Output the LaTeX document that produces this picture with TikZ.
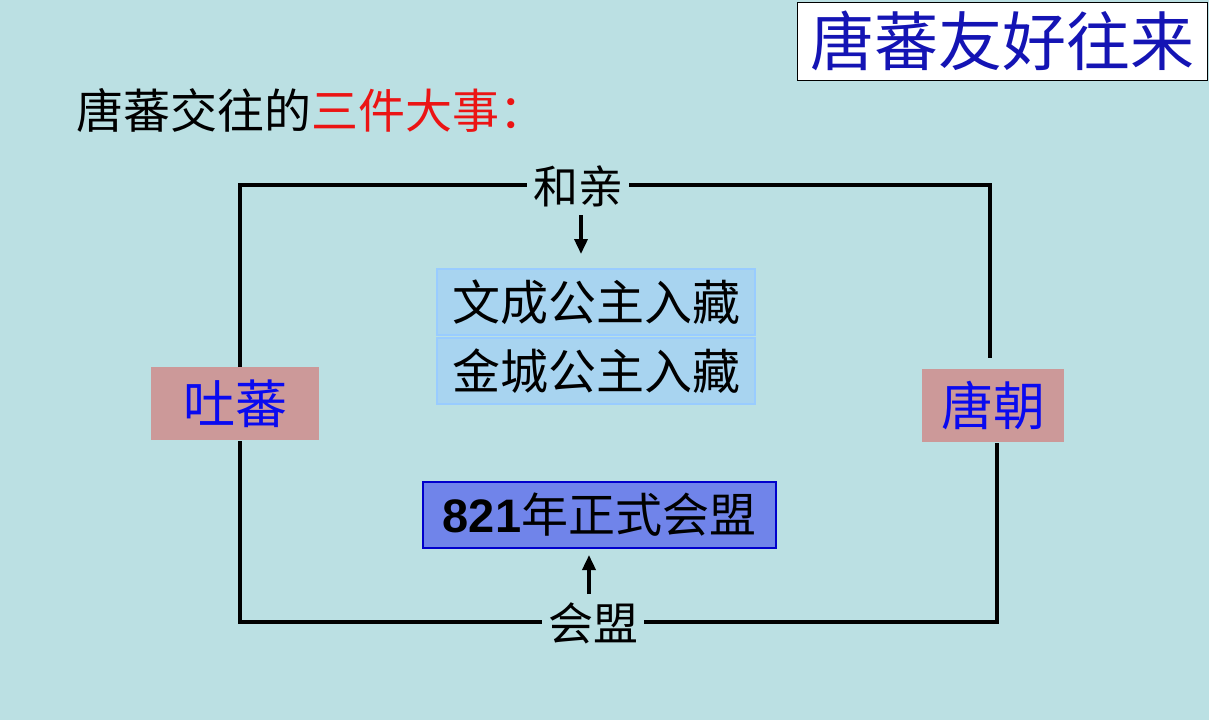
\documentclass[tikz,border=0pt]{standalone}
\usepackage{fontspec}
\newfontfamily\cjk{Noto Sans CJK SC}
\newfontfamily\arialb{Liberation Sans}
\usetikzlibrary{arrows.meta}
\definecolor{bg}{RGB}{187,224,227}
\definecolor{titleblue}{RGB}{20,20,180}
\definecolor{pureblue}{RGB}{10,10,240}
\definecolor{rose}{RGB}{204,153,153}
\definecolor{lightbluefill}{RGB}{168,212,240}
\definecolor{lightblueedge}{RGB}{153,204,255}
\definecolor{periwinkle}{RGB}{112,132,234}
\definecolor{darkedge}{RGB}{0,0,204}
\definecolor{headred}{RGB}{235,20,20}
\begin{document}
\begin{tikzpicture}[x=1pt,y=-1pt,
  titlebox/.style={draw=black,fill=white,line width=1pt,minimum width=410pt,minimum height=78pt,inner sep=0pt,text=titleblue,font=\cjk\fontsize{64}{70}\selectfont},
  heading/.style={inner sep=0pt,anchor=west,font=\cjk\fontsize{47}{52}\selectfont},
  lbl/.style={inner xsep=6pt,inner ysep=0pt,font=\cjk\fontsize{45}{50}\selectfont,text=black},
  lbox/.style={fill=lightbluefill,draw=lightblueedge,line width=2.5pt,minimum width=318pt,minimum height=66pt,inner sep=0pt,font=\cjk\fontsize{48}{52}\selectfont,text=black},
  dbox/.style={fill=periwinkle,draw=darkedge,line width=2pt,minimum width=353pt,minimum height=66pt,inner sep=0pt,font=\cjk\fontsize{47}{52}\selectfont,text=black},
  pbox/.style={fill=rose,minimum height=73pt,inner sep=0pt,font=\cjk\fontsize{52}{56}\selectfont,text=pureblue},
  frame/.style={line width=3.5pt,draw=black},
  arr/.style={line width=3.5pt,-{Triangle[length=15pt,width=13pt]}}
]
\fill[bg] (0,0) rectangle (1209,720);
\useasboundingbox (0,0) rectangle (1209,720);

\node[titlebox] (title) at (1002,41) {唐蕃友好往来};
\node[heading] (head) at (76,110) {唐蕃交往的\textcolor{headred}{三件大事：}};

\node[lbl] (heqin) at (578,186) {和亲};
\node[lbl] (huimeng) at (593,623) {会盟};

\node[lbox] (wc) at (596,302) {文成公主入藏};
\node[lbox] (jc) at (596,371) {金城公主入藏};
\node[dbox] (hm) at (599.5,515) {{\arialb\bfseries\fontsize{47}{52}\selectfont 821}年正式会盟};

\node[pbox,minimum width=168pt] (tubo) at (235,403.5) {吐蕃};
\node[pbox,minimum width=142pt] (tang) at (993,405.5) {唐朝};

\coordinate (tl) at (240,185);
\coordinate (tr) at (990,185);
\coordinate (bl) at (240,622);
\coordinate (br) at (997,622);
\coordinate (lup) at (240,367);
\coordinate (llo) at (240,441);
\coordinate (rup) at (990,358);
\coordinate (rlo) at (997,443);

\draw[frame] (heqin.west |- tl) -- (tl) -- (lup);
\draw[frame] (heqin.east |- tr) -- (tr) -- (rup);
\draw[frame] (huimeng.west |- bl) -- (bl) -- (llo);
\draw[frame] (huimeng.east |- br) -- (br) -- (rlo);

\coordinate (a1s) at (581,215);
\coordinate (a1e) at (581,254);
\coordinate (a2s) at (589,594);
\coordinate (a2e) at (589,555);
\draw[arr] (a1s) -- (a1e);
\draw[arr] (a2s) -- (a2e);
\end{tikzpicture}
\end{document}
